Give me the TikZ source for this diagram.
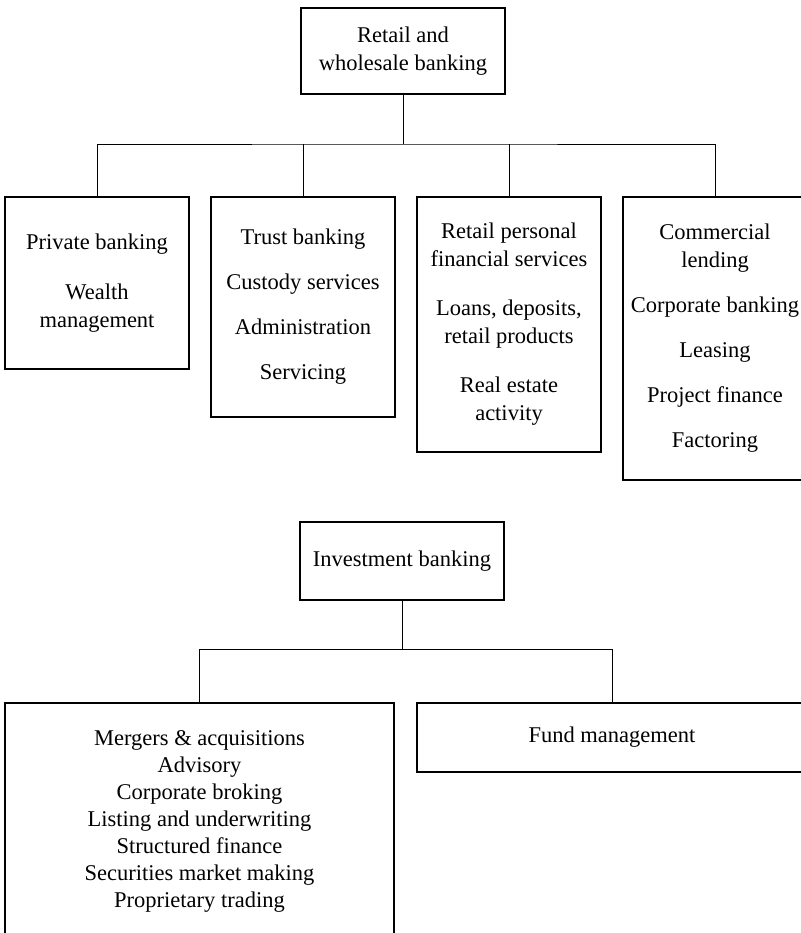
\documentclass[tikz,border=0pt]{standalone}
\usepackage{fontspec}
\setmainfont{Liberation Serif}
\begin{document}
\begin{tikzpicture}[x=0.5pt,y=-0.5pt,
		box/.style={draw,line width=1pt,align=center,inner sep=0pt,
			font=\fontsize{11.25}{14}\selectfont},
		link/.style={line width=0.5pt}]
			\useasboundingbox (0,0) rectangle (801,933);
			\clip (0,0) rectangle (801,933);

			% Upper root
			\node[box,minimum width=102pt,minimum height=43pt] (retail) at (403,51)
				{Retail and\\wholesale banking};

			% Upper branches
			\node[box,minimum width=92pt,minimum height=86pt] (private) at (97,283)
				{Private banking\\[11pt]Wealth\\management};
			\node[box,minimum width=92pt,minimum height=110pt] (trust) at (303,307)
				{Trust banking\\[8.5pt]Custody services\\[8.5pt]Administration\\[8.5pt]Servicing};
			\node[box,minimum width=92pt,minimum height=127.5pt] (personal) at (509,324.5)
				{Retail personal\\financial services\\[10.5pt]Loans, deposits,\\retail products\\[10.5pt]Real estate\\activity};
			\node[box,minimum width=92pt,minimum height=141.5pt] (commercial) at (715,338.5)
				{Commercial\\lending\\[8.5pt]Corporate banking\\[8.5pt]Leasing\\[8.5pt]Project finance\\[8.5pt]Factoring};

			% Lower root
			\node[box,minimum width=102pt,minimum height=39pt] (invest) at (402,561)
				{Investment banking};

			% Lower branches
			\node[box,minimum width=194.5pt,minimum height=118.5pt,
				font=\fontsize{11.25}{13.5}\selectfont] (mergers) at (199.5,821.5)
				{Mergers \& acquisitions\\Advisory\\Corporate broking\\Listing and underwriting\\Structured finance\\Securities market making\\Proprietary trading};
			\node[box,minimum width=195pt,minimum height=34.5pt] (fund) at (612,737.5)
				{Fund management};

			% Draw edges
			\coordinate (uphub) at (403,144);
			\draw[link] (retail) -- (uphub);
			\draw[link] (private.north) |- (uphub) -| (commercial.north);
			\draw[link] (trust.north) -- (trust.north |- uphub);
			\draw[link] (personal.north) -- (personal.north |- uphub);

			\coordinate (lowhub) at (402,649);
			\draw[link] (invest) -- (lowhub);
			\draw[link] (mergers.north) |- (lowhub) -| (fund.north);
		\end{tikzpicture}
\end{document}
